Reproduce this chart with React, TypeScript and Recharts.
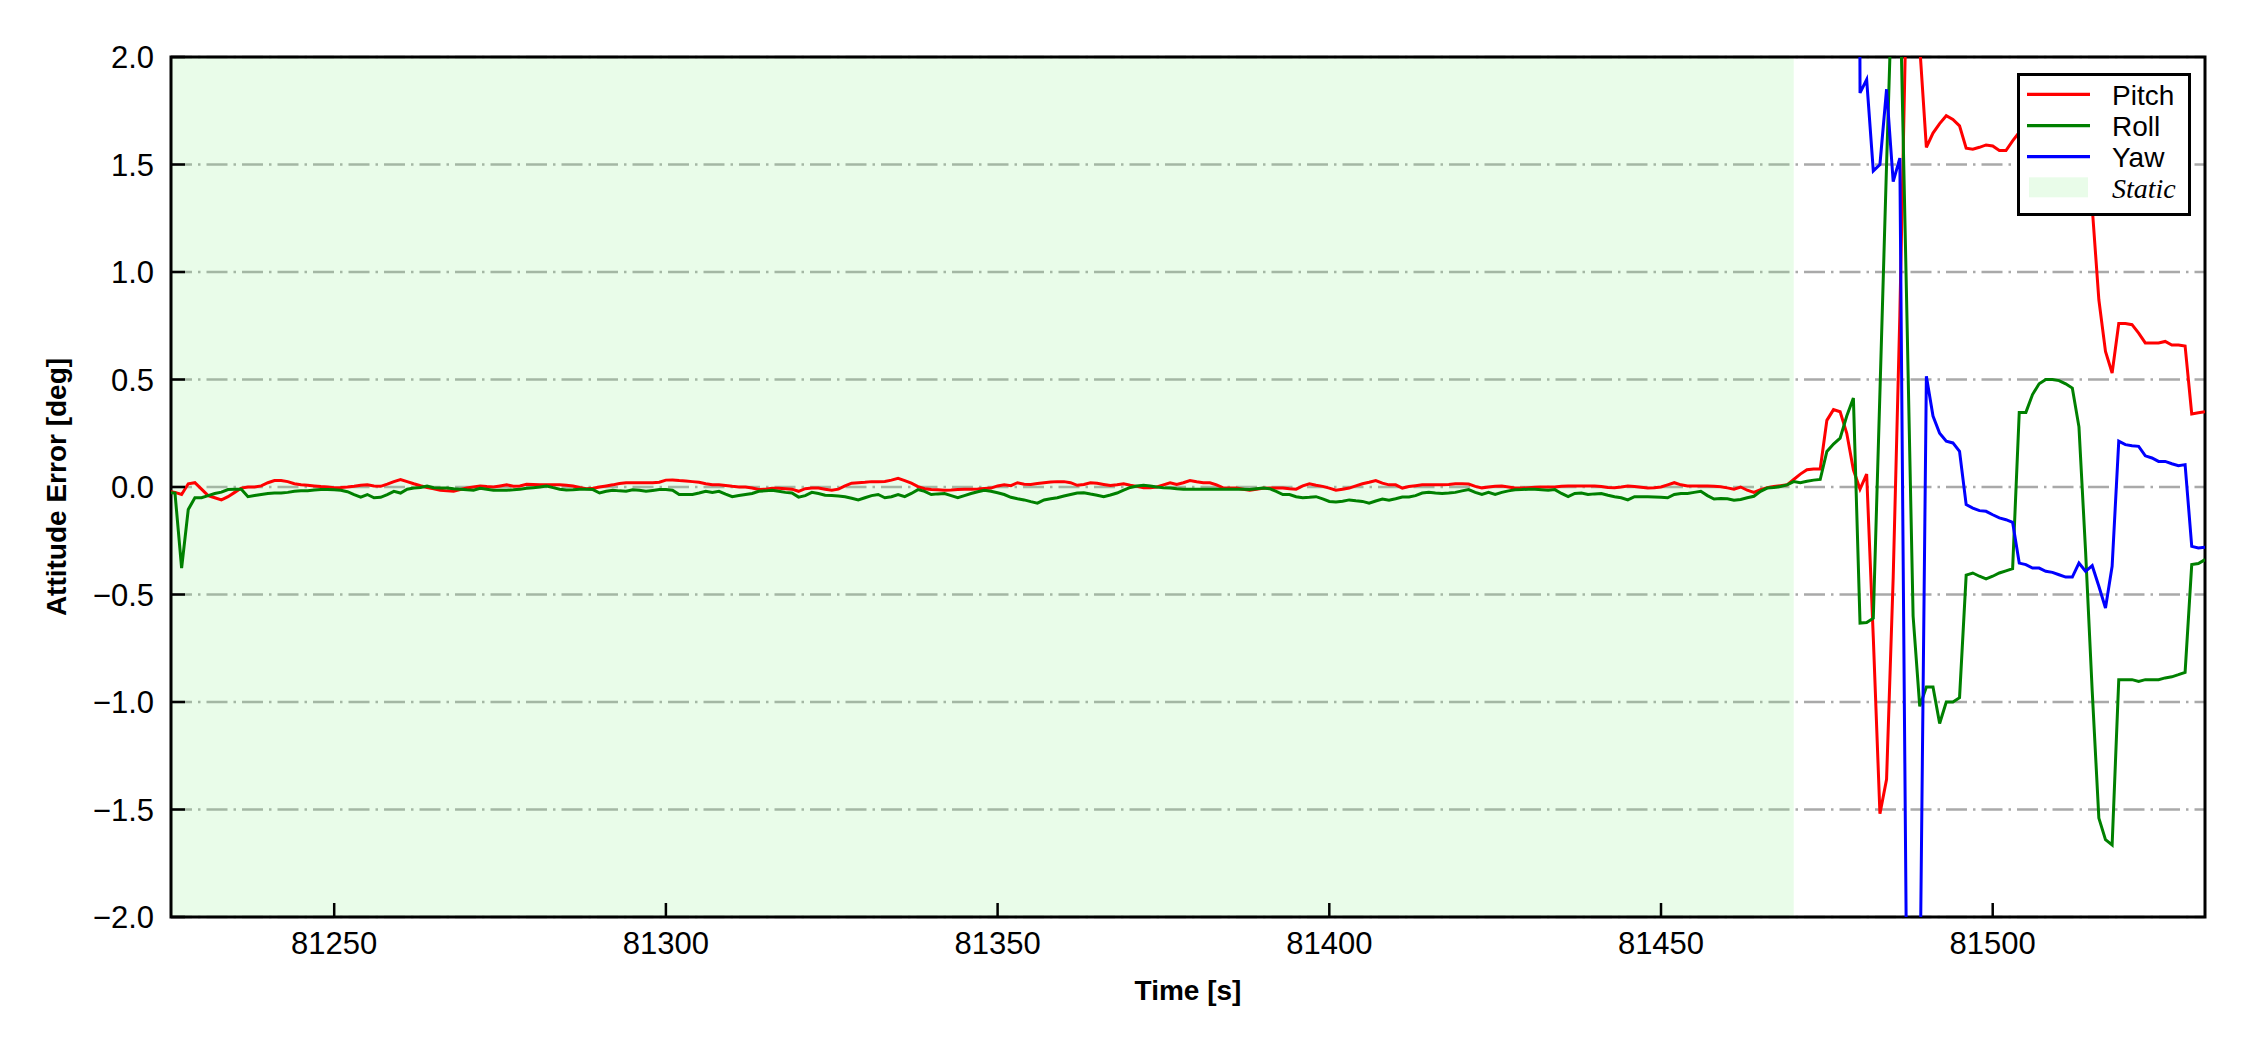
import { CartesianGrid, Legend, Line, LineChart, ReferenceArea, XAxis, YAxis } from "recharts"

const W = 2250
const H = 1050
const PLOT = { left: 171, top: 57, right: 2205, bottom: 917 }
const SANS = "'Liberation Sans', Arial, sans-serif"
const SERIF = "'Liberation Serif', 'Times New Roman', serif"

const X_MIN = 81225.4
const X_MAX = 81532
const STATIC_END = 81470
const X_TICKS = [81250, 81300, 81350, 81400, 81450, 81500]
const Y_TICKS = [-2, -1.5, -1, -0.5, 0, 0.5, 1, 1.5, 2]

// 1 Hz samples starting at T0
const T0 = 81225
const PITCH = [
  -0.02, -0.025, -0.035, 0.015, 0.02, -0.01, -0.04, -0.05, -0.06, -0.045,
  -0.025, -0.005, 0, 0, 0.005, 0.02, 0.03, 0.03, 0.025, 0.015,
  0.01, 0.008, 0.005, 0.002, 0, -0.003, -0.002, 0, 0.003, 0.008,
  0.01, 0.005, 0.003, 0.013, 0.025, 0.035, 0.025, 0.015, 0.006, -0.002,
  -0.008, -0.015, -0.018, -0.02, -0.012, -0.005, 0, 0.005, 0.002, 0,
  0.005, 0.01, 0.004, 0.005, 0.013, 0.012, 0.01, 0.01, 0.01, 0.01,
  0.008, 0.005, -0.002, -0.008, -0.006, 0, 0.005, 0.01, 0.016, 0.02,
  0.02, 0.02, 0.02, 0.02, 0.022, 0.032, 0.033, 0.03, 0.028, 0.025,
  0.022, 0.015, 0.01, 0.01, 0.007, 0.003, 0, 0, -0.005, -0.012,
  -0.01, -0.006, -0.006, -0.008, -0.01, -0.02, -0.008, -0.005, -0.005, -0.01,
  -0.015, -0.01, 0.005, 0.018, 0.02, 0.022, 0.025, 0.025, 0.026, 0.032,
  0.04, 0.03, 0.018, 0.002, -0.008, -0.012, -0.013, -0.015, -0.014, -0.012,
  -0.011, -0.01, -0.009, -0.007, -0.005, 0.005, 0.01, 0.006, 0.02, 0.013,
  0.012, 0.016, 0.02, 0.023, 0.025, 0.025, 0.02, 0.008, 0.012, 0.02,
  0.017, 0.012, 0.007, 0.01, 0.015, 0.008, 0.003, -0.003, -0.004, 0,
  0.01, 0.02, 0.012, 0.02, 0.03, 0.024, 0.02, 0.02, 0.01, -0.004,
  -0.005, -0.005, -0.01, -0.015, -0.01, -0.006, -0.005, -0.005, -0.005, -0.008,
  -0.01, 0.005, 0.015, 0.008, 0.003, -0.005, -0.015, -0.01, -0.005, 0.005,
  0.015, 0.022, 0.03, 0.018, 0.01, 0.01, -0.005, 0.002, 0.006, 0.01,
  0.01, 0.01, 0.01, 0.012, 0.015, 0.015, 0.014, 0.003, -0.004, 0,
  0.003, 0.005, 0, -0.005, -0.005, -0.003, -0.001, 0, 0, 0,
  0.003, 0.005, 0.005, 0.005, 0.005, 0.005, 0.002, -0.002, -0.004, 0,
  0.005, 0.002, -0.001, -0.005, -0.003, 0, 0.01, 0.02, 0.01, 0.005,
  0.005, 0.005, 0.005, 0.004, 0.001, -0.004, -0.01, 0, -0.015, -0.025,
  -0.012, -0.003, 0.002, 0.006, 0.01, 0.035, 0.06, 0.08, 0.084, 0.084,
  0.31, 0.36, 0.35, 0.25, 0.08, -0.01, 0.06, -0.7, -1.52, -1.36,
  -0.42, 0.8, 2.3, 2.3, 2.05, 1.58, 1.646, 1.69, 1.727, 1.71,
  1.68, 1.576, 1.571, 1.58, 1.591, 1.586, 1.565, 1.565, 1.61, 1.65,
  1.68, 1.72, 1.75, 1.74, 1.73, 1.76, 1.78, 1.75, 1.72, 1.7,
  1.3, 0.871, 0.63, 0.53, 0.76, 0.76, 0.755, 0.716, 0.67, 0.67,
  0.67, 0.677, 0.66, 0.66, 0.656, 0.34, 0.345, 0.35,
]
const ROLL = [
  -0.025, -0.028, -0.377, -0.105, -0.05, -0.05, -0.04, -0.03, -0.024, -0.012,
  -0.01, -0.01, -0.045, -0.04, -0.035, -0.03, -0.028, -0.028, -0.025, -0.02,
  -0.018, -0.017, -0.014, -0.012, -0.012, -0.013, -0.015, -0.022, -0.035, -0.047,
  -0.035, -0.05, -0.048, -0.035, -0.02, -0.028, -0.01, -0.005, -0.002, 0.005,
  -0.003, -0.005, -0.005, -0.008, -0.01, -0.013, -0.015, -0.006, -0.01, -0.015,
  -0.015, -0.015, -0.013, -0.01, -0.006, -0.003, 0, 0.005, -0.003, -0.01,
  -0.014, -0.013, -0.01, -0.011, -0.012, -0.028, -0.02, -0.015, -0.018, -0.02,
  -0.013, -0.015, -0.02, -0.016, -0.012, -0.012, -0.015, -0.035, -0.035, -0.035,
  -0.028, -0.02, -0.026, -0.02, -0.033, -0.045, -0.04, -0.035, -0.03, -0.02,
  -0.018, -0.015, -0.02, -0.025, -0.028, -0.047, -0.04, -0.025, -0.03, -0.038,
  -0.04, -0.042, -0.045, -0.052, -0.06, -0.05, -0.04, -0.035, -0.05, -0.045,
  -0.035, -0.045, -0.03, -0.012, -0.02, -0.035, -0.032, -0.03, -0.04, -0.05,
  -0.04, -0.03, -0.022, -0.015, -0.02, -0.027, -0.035, -0.048, -0.055, -0.06,
  -0.068, -0.075, -0.06, -0.055, -0.05, -0.042, -0.035, -0.028, -0.027, -0.033,
  -0.038, -0.045, -0.037, -0.028, -0.015, -0.002, 0.005, 0.008, 0.005, 0,
  -0.003, -0.005, -0.008, -0.01, -0.01, -0.01, -0.01, -0.01, -0.01, -0.01,
  -0.01, -0.01, -0.011, -0.012, -0.008, -0.005, -0.008, -0.02, -0.035, -0.035,
  -0.045, -0.05, -0.048, -0.045, -0.055, -0.067, -0.07, -0.066, -0.06, -0.064,
  -0.067, -0.075, -0.065, -0.056, -0.062, -0.055, -0.047, -0.046, -0.04, -0.028,
  -0.025, -0.028, -0.03, -0.028, -0.025, -0.018, -0.012, -0.025, -0.035, -0.025,
  -0.035, -0.025, -0.018, -0.013, -0.012, -0.01, -0.011, -0.013, -0.015, -0.012,
  -0.03, -0.045, -0.03, -0.028, -0.035, -0.032, -0.03, -0.038, -0.045, -0.05,
  -0.06, -0.045, -0.045, -0.045, -0.046, -0.048, -0.05, -0.035, -0.03, -0.03,
  -0.025, -0.02, -0.04, -0.056, -0.054, -0.055, -0.062, -0.058, -0.05, -0.043,
  -0.02, -0.005, -0.002, 0.002, 0.01, 0.025, 0.02, 0.027, 0.032, 0.035,
  0.165, 0.2, 0.227, 0.33, 0.414, -0.633, -0.63, -0.61, 0.44, 1.5,
  2.5, 2.36, 0.9, -0.6, -1.02, -0.93, -0.93, -1.1, -1.0, -1.0,
  -0.98, -0.41, -0.4, -0.415, -0.427, -0.415, -0.4, -0.39, -0.38, 0.347,
  0.347, 0.43, 0.48, 0.5, 0.5, 0.495, 0.48, 0.46, 0.28, -0.3,
  -0.95, -1.54, -1.64, -1.665, -0.896, -0.896, -0.896, -0.904, -0.896, -0.896,
  -0.896, -0.888, -0.883, -0.873, -0.862, -0.361, -0.356, -0.338,
]
// yaw is off the chart (above 2) until YAW_T0
const YAW_T0 = 81479
const YAW = [
  12,
  1.833, 1.895, 1.47, 1.5, 1.85, 1.42, 1.53, -2.2, -3.0, -2.45,
  0.515, 0.33, 0.25, 0.213, 0.205, 0.166, -0.082, -0.098, -0.11, -0.113,
  -0.129, -0.144, -0.152, -0.164, -0.354, -0.361, -0.377, -0.377, -0.392, -0.397,
  -0.408, -0.419, -0.419, -0.354, -0.392, -0.366, -0.462, -0.563, -0.369, 0.213,
  0.197, 0.192, 0.189, 0.145, 0.135, 0.119, 0.119, 0.108, 0.099, 0.104,
  -0.276, -0.284, -0.28,
]

const SERIES = [
  { key: "pitch", name: "Pitch", color: "#ff0000" },
  { key: "roll", name: "Roll", color: "#008000" },
  { key: "yaw", name: "Yaw", color: "#0000ff" },
]
const STATIC_FILL = "#90ee90"

const rows = PITCH.map((p, i) => {
  const t = T0 + i
  const j = t - YAW_T0
  return { t, pitch: p, roll: ROLL[i], yaw: j >= 0 ? YAW[j] : null }
})

function XTick({ x, y, payload }: any) {
  return (
    <g>
      <line x1={x} x2={x} y1={y} y2={y - 14} stroke="#000" strokeWidth={2.5} />
      <text x={x} y={y + 37} textAnchor="middle" fontSize={31} fontFamily={SANS} fill="#000">
        {payload.value}
      </text>
    </g>
  )
}

function YTick({ x, y, payload }: any) {
  const label = Number(payload.value).toFixed(1).replace("-", "\u2212")
  return (
    <g>
      <line x1={x} x2={x + 14} y1={y} y2={y} stroke="#000" strokeWidth={2.5} />
      <text x={x - 17} y={y + 11} textAnchor="end" fontSize={31} fontFamily={SANS} fill="#000">
        {label}
      </text>
    </g>
  )
}

function XTitle() {
  const cx = (PLOT.left + PLOT.right) / 2
  return (
    <text x={cx} y={1000} textAnchor="middle" fontSize={28} fontWeight="bold" fontFamily={SANS} fill="#000">
      Time [s]
    </text>
  )
}

function YTitle() {
  const cy = (PLOT.top + PLOT.bottom) / 2
  return (
    <text
      x={66}
      y={cy}
      transform={`rotate(-90 66 ${cy})`}
      textAnchor="middle"
      fontSize={28}
      fontWeight="bold"
      fontFamily={SANS}
      fill="#000"
    >
      Attitude Error [deg]
    </text>
  )
}

// matplotlib-style boxed legend, drawn in the upper-right corner
function LegendBox() {
  const rowY = [21.3, 52.7, 83.7, 114.3]
  return (
    <svg width={174} height={143} style={{ display: "block" }}>
      <rect x={1.5} y={1.5} width={171} height={140} fill="#fff" stroke="#000" strokeWidth={3} />
      {SERIES.map((s, i) => (
        <g key={s.key}>
          <line x1={10} x2={73} y1={rowY[i]} y2={rowY[i]} stroke={s.color} strokeWidth={3.2} />
          <text x={95} y={rowY[i] + 10.5} fontSize={28} fontFamily={SANS} fill="#000">
            {s.name}
          </text>
        </g>
      ))}
      <rect x={12} y={rowY[3] - 10} width={59} height={20} fill={STATIC_FILL} fillOpacity={0.2} />
      <text x={95} y={rowY[3] + 10.5} fontSize={28} fontStyle="italic" fontFamily={SERIF} fill="#000">
        Static
      </text>
    </svg>
  )
}

export default function App() {
  return (
    <div style={{ position: "absolute", left: 0, top: 0, width: W, height: H, background: "#fff" }}>
      <LineChart
        width={W}
        height={H}
        data={rows}
        margin={{ top: PLOT.top, right: W - PLOT.right, bottom: 0, left: 0 }}
      >
        <ReferenceArea x1={X_MIN} x2={STATIC_END} y1={-2} y2={2} fill={STATIC_FILL} fillOpacity={0.2} stroke="none" />
        <CartesianGrid
          vertical={false}
          stroke="#a9a9a9"
          strokeWidth={2.5}
          strokeDasharray="21 6 2.5 6"
        />
        <XAxis
          type="number"
          dataKey="t"
          domain={[X_MIN, X_MAX]}
          allowDataOverflow
          ticks={X_TICKS}
          interval={0}
          tick={<XTick />}
          tickLine={false}
          axisLine={false}
          tickSize={0}
          tickMargin={0}
          height={H - PLOT.bottom}
          label={<XTitle />}
        />
        <YAxis
          type="number"
          domain={[-2, 2]}
          allowDataOverflow
          ticks={Y_TICKS}
          interval={0}
          tick={<YTick />}
          tickLine={false}
          axisLine={false}
          tickSize={0}
          tickMargin={0}
          width={PLOT.left}
          label={<YTitle />}
        />
        {SERIES.map((s) => (
          <Line
            key={s.key}
            type="linear"
            dataKey={s.key}
            name={s.name}
            stroke={s.color}
            strokeWidth={3}
            dot={false}
            activeDot={false}
            isAnimationActive={false}
          />
        ))}
        <ReferenceArea x1={X_MIN} x2={X_MAX} y1={-2} y2={2} fill="none" stroke="#000" strokeWidth={3} />
        <Legend
          layout="vertical"
          align="center"
          verticalAlign="middle"
          wrapperStyle={{ position: "absolute", left: 2017, top: 73, width: 174, height: 143 }}
          content={() => <LegendBox />}
        />
      </LineChart>
    </div>
  )
}
